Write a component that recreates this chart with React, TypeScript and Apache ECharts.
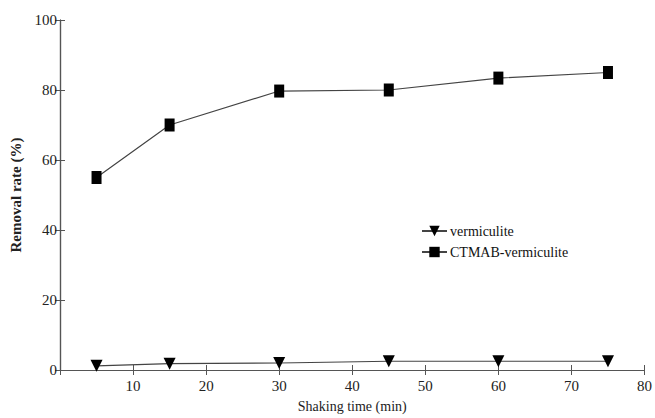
import React, { useEffect, useRef } from "react";
import * as echarts from "echarts";

const shakingTimes = [5, 15, 30, 45, 60, 75];
const vermiculite = [1.2, 1.8, 2.0, 2.5, 2.5, 2.5];
const ctmabVermiculite = [55, 70, 79.7, 80, 83.4, 85];
const seriesNames = ["vermiculite", "CTMAB-vermiculite"];

const FONT = '"Times New Roman", "Liberation Serif", "DejaVu Serif", serif';
const AXIS_COLOR = "#555";

export default function App() {
  const ref = useRef<HTMLDivElement>(null);

  useEffect(() => {
    if (!ref.current) return;
    const chart = echarts.init(ref.current, null, { renderer: "svg" });
    const axisLine = { show: true, lineStyle: { color: AXIS_COLOR, width: 1.2 } };
    const tick = { show: true, inside: true, length: 5, lineStyle: { color: AXIS_COLOR } };
    chart.setOption({
      animation: false,
      backgroundColor: "#fff",
      textStyle: { fontFamily: FONT },
      grid: { left: 56, right: 6, top: 20, bottom: 44 },
      legend: {
        orient: "vertical",
        left: 416,
        top: 219,
        itemWidth: 25,
        itemHeight: 13,
        itemGap: 7,
        data: seriesNames,
        textStyle: { fontFamily: FONT, fontSize: 14, color: "#111", padding: [0, 0, 0, -2] },
      },
      xAxis: [
        {
          type: "value",
          min: 0,
          max: 80,
          interval: 10,
          name: "Shaking time (min)",
          nameLocation: "middle",
          nameGap: 29,
          nameTextStyle: { fontFamily: FONT, fontSize: 14, color: "#222" },
          axisLine,
          axisTick: tick,
          splitLine: { show: false },
          axisLabel: {
            fontFamily: FONT,
            fontSize: 15,
            color: "#222",
            margin: 8,
            formatter: (v: number) => (v === 0 ? "" : String(v)),
          },
        },
        {
          type: "value",
          position: "top",
          min: 0,
          max: 80,
          interval: 10,
          axisLine,
          axisTick: tick,
          axisLabel: { show: false },
          splitLine: { show: false },
        },
      ],
      yAxis: [
        {
          type: "value",
          min: 0,
          max: 100,
          interval: 20,
          name: "Removal rate (%)",
          nameLocation: "middle",
          nameGap: 37,
          nameTextStyle: { fontFamily: FONT, fontSize: 15, fontWeight: "bold", color: "#222" },
          axisLine,
          axisTick: tick,
          splitLine: { show: false },
          axisLabel: { fontFamily: FONT, fontSize: 15, color: "#222", margin: 3 },
        },
        {
          type: "value",
          position: "right",
          min: 0,
          max: 100,
          interval: 20,
          axisLine,
          axisTick: tick,
          axisLabel: { show: false },
          splitLine: { show: false },
        },
      ],
      series: [
        {
          name: seriesNames[0],
          type: "line",
          data: shakingTimes.map((t, i) => [t, vermiculite[i]]),
          symbol: "path://M0,0 L12,0 L6,12 Z",
          symbolSize: [12, 12],
          itemStyle: { color: "#000" },
          lineStyle: { color: "#444", width: 1.2 },
        },
        {
          name: seriesNames[1],
          type: "line",
          data: shakingTimes.map((t, i) => [t, ctmabVermiculite[i]]),
          symbol: "rect",
          symbolSize: [10, 13],
          itemStyle: { color: "#000" },
          lineStyle: { color: "#444", width: 1.2 },
        },
      ],
    });
    return () => chart.dispose();
  }, []);

  return <div ref={ref} style={{ width: 655, height: 418, position: "absolute", left: 0, top: 0 }} />;
}
